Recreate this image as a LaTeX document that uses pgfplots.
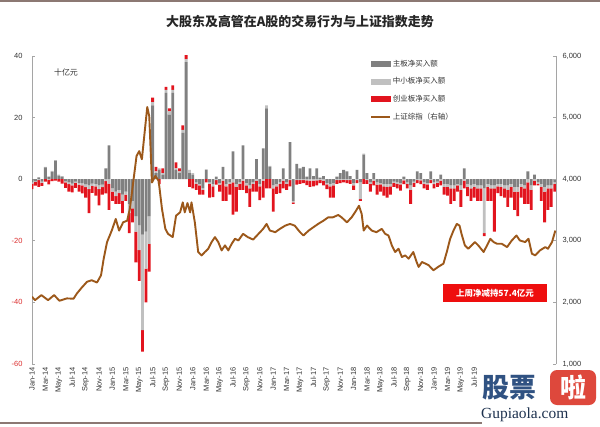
\documentclass[border=0pt]{standalone}
\usepackage{fontspec}
\setmainfont{Liberation Sans}
\newfontfamily\cjk{Noto Sans CJK SC}
\newfontfamily\serifw{Liberation Serif}
\usepackage{pgfplots}
\usepackage{pgfplotstable}
\pgfplotsset{compat=1.18}

\definecolor{mainc}{RGB}{128,128,128}
\definecolor{smec}{RGB}{192,192,192}
\definecolor{gemc}{RGB}{226,20,30}
\definecolor{idxc}{RGB}{156,88,26}
\definecolor{negred}{RGB}{220,45,45}
\definecolor{axgray}{RGB}{165,165,165}
\definecolor{boxred}{RGB}{238,14,14}
\definecolor{wmblue}{RGB}{48,82,130}
\definecolor{wmred}{RGB}{222,72,60}
\definecolor{rulec}{RGB}{140,120,115}

% weekly-ish net buying, 10 bn yuan: a = main board, b = SME board, c = ChiNext
\pgfplotstableread{
m a b c
0.0 -1.0 -0.4 -1.8
0.5 -0.6 -0.3 -1.2
1.0 0.6 -0.3 -2.2
1.5 -0.8 -0.4 -1.0
2.0 3.8 0.2 -0.8
2.5 0.8 -0.2 -1.5
3.0 2.4 0.3 -0.6
3.5 6.0 0.2 -0.5
4.0 1.2 0.3 -0.8
4.5 0.8 0.2 -1.4
5.0 -0.6 -0.4 -1.8
5.5 -1.0 -0.6 -2.4
6.0 -1.4 -0.6 -2.3
6.5 -0.8 -0.4 -1.6
7.0 -1.2 -0.6 -2.2
7.5 -1.3 -0.7 -2.6
8.0 -1.6 -1.0 -3.4
8.5 -2.0 -1.2 -7.8
9.0 -1.4 -0.8 -2.2
9.5 -1.5 -0.8 -3.0
10.0 -2.0 -1.2 -5.3
10.5 -1.8 -0.8 -2.4
11.0 3.5 -0.6 -4.0
11.5 11.0 -1.5 -8.5
12.0 -3.0 -1.0 -3.0
12.5 -4.0 -1.5 -2.5
13.0 -3.5 -1.0 -3.5
13.5 -5.0 -2.0 -4.0
14.0 -4.0 -1.0 -2.0
14.5 -8.0 -3.0 -6.5
15.0 -7.0 -2.5 -4.5
15.5 -12.0 -5.0 -10.0
16.0 -15.0 -8.0 -10.0
16.5 -18.0 -31.0 -7.0
17.0 -17.0 -12.0 -11.0
17.5 -12.0 -9.0 -9.0
18.0 24.0 1.0 1.5
18.5 2.0 0.5 1.5
19.0 3.0 0.5 -1.5
19.5 1.5 0.5 1.5
20.0 28.0 1.0 1.0
20.5 21.0 1.0 1.0
21.0 28.0 1.0 1.5
21.5 3.0 0.5 2.0
22.0 2.0 0.5 1.0
22.5 15.0 1.0 1.5
23.0 38.0 1.0 1.5
23.5 2.0 1.0 -2.5
24.0 1.5 0.5 -3.0
24.5 -1.0 -0.5 -2.0
25.0 -1.5 -0.5 -3.0
25.5 -3.0 -0.5 -1.5
26.0 3.0 0.2 -1.0
26.5 -1.0 -0.5 -4.5
27.0 -1.5 -0.8 -3.5
27.5 0.8 -0.3 -1.5
28.0 -1.2 -0.6 -2.2
28.5 4.0 -0.5 -6.5
29.0 -1.5 -0.8 -4.7
29.5 -1.0 -0.5 -3.5
30.0 9.0 -1.0 -10.5
30.5 -1.5 -1.0 -8.0
31.0 -1.0 -0.5 -2.0
31.5 11.0 -0.5 -3.0
32.0 -1.2 -0.8 -2.5
32.5 -2.0 -1.0 -6.0
33.0 -1.0 -0.5 -2.5
33.5 6.5 -0.5 -3.5
34.0 -1.5 -0.8 -4.5
34.5 10.0 -0.5 -5.5
35.0 23.0 1.0 -3.0
35.5 4.0 0.3 -3.0
36.0 -2.0 -1.0 -7.5
36.5 -1.5 -0.8 -2.5
37.0 -1.0 -0.5 -3.0
37.5 3.5 -0.5 -2.5
38.0 -1.0 -0.5 -2.0
38.5 12.0 -0.3 -2.0
39.0 -7.0 -0.5 -0.5
39.5 5.0 -0.3 -1.5
40.0 3.5 -0.3 -1.2
40.5 4.0 -0.3 -1.0
41.0 0.8 -0.4 -1.5
41.5 3.5 -0.5 -2.0
42.0 1.0 -0.5 -1.8
42.5 3.5 -0.4 -1.6
43.0 0.5 -0.3 -1.0
43.5 1.0 -0.5 -1.5
44.0 -1.2 -0.5 -1.5
44.5 -1.5 -0.8 -3.7
45.0 -1.2 -0.8 -4.0
45.5 0.8 -0.3 -1.2
46.0 2.0 -0.3 -1.0
46.5 3.0 -0.2 -0.8
47.0 2.5 -0.3 -1.0
47.5 1.0 -0.3 -1.2
48.0 -1.2 -0.8 -1.5
48.5 3.0 -0.3 -1.0
49.0 -1.0 -5.5 -0.5
49.5 8.0 0.3 -1.5
50.0 2.0 -0.3 -1.2
50.5 -1.0 -0.5 -2.5
51.0 2.0 -0.5 -1.5
51.5 -1.0 -0.8 -3.2
52.0 -1.2 -0.5 -2.3
52.5 -1.5 -0.8 -3.0
53.0 -1.5 -1.0 -3.5
53.5 -1.5 -0.8 -2.7
54.0 -0.8 -0.4 -1.3
54.5 -1.0 -0.5 -1.5
55.0 -1.2 -0.5 -2.0
55.5 0.8 -0.4 -1.2
56.0 -1.0 -0.5 -1.5
56.5 -2.0 -1.5 -4.5
57.0 -0.8 -0.4 -1.3
57.5 2.5 -0.3 -1.0
58.0 2.0 -0.4 -1.2
58.5 -1.0 -0.5 -1.5
59.0 -1.2 -0.5 -1.8
59.5 2.5 -0.3 -1.0
60.0 -1.0 -0.6 -1.4
60.5 -0.8 -0.4 -1.3
61.0 1.5 -0.5 -1.5
61.5 -1.5 -1.0 -2.5
62.0 -1.5 -1.0 -2.8
62.5 -2.0 -1.0 -5.0
63.0 -2.0 -1.0 -4.0
63.5 -1.5 -0.5 -2.0
64.0 -2.0 -1.5 -5.5
64.5 3.5 -0.5 -2.5
65.0 -1.5 -1.0 -3.0
65.5 -2.0 -1.0 -4.0
66.0 -1.5 -1.0 -3.5
66.5 -2.0 -1.0 -4.0
67.0 -2.0 -1.0 -4.0
67.5 -3.0 -14.5 -1.0
68.0 -1.5 -1.0 -4.5
68.5 -2.0 -1.0 -4.0
69.0 -2.0 -1.0 -14.0
69.5 -1.5 -0.8 -2.2
70.0 -1.5 -1.0 -3.0
70.5 -2.0 -1.0 -3.0
71.0 -2.0 -1.5 -5.5
71.5 -1.5 -1.0 -3.5
72.0 -2.5 -1.5 -6.0
72.5 -2.5 -1.5 -8.0
73.0 -1.5 -1.0 -3.5
73.5 -2.0 -1.0 -5.0
74.0 2.5 -1.0 -7.0
74.5 -2.0 -1.5 -6.5
75.0 1.5 -0.5 -1.5
75.5 -1.0 -0.5 -0.5
76.0 -1.5 -1.0 -4.5
76.5 -2.5 -1.5 -10.0
77.0 -2.0 -1.0 -7.0
77.5 -2.0 -1.0 -6.0
78.0 -1.0 -0.5 -2.5
}\flows

% Shanghai Composite (right axis)
\pgfplotstableread{
m v
0 2092
0.45 2037
1.4 2118
2.4 2037
3.3 2118
4.1 2027
5.2 2065
6.2 2060
6.7 2145
7.4 2237
8.2 2334
8.9 2360
9.7 2323
10.3 2440
10.7 2710
11.2 2979
11.9 3166
12.5 3355
13.0 3166
13.6 3300
14.2 3327
14.6 3516
15.1 3946
15.6 4376
16.0 4456
16.4 4323
16.7 4645
17.2 5172
17.5 5021
17.9 3946
18.4 4054
18.9 3973
19.4 3516
19.9 3194
20.3 3113
21.0 3060
21.5 3408
22.1 3462
22.5 3624
22.8 3462
23.2 3613
23.6 3462
23.8 3624
24.3 3300
24.8 2818
25.3 2763
25.8 2818
26.3 2871
26.8 2979
27.3 3060
27.8 2979
28.3 2844
28.8 2925
29.3 2844
29.8 2952
30.3 3033
30.8 3006
31.5 3113
32.2 3060
33.0 3020
33.8 3113
34.5 3194
35.0 3274
35.5 3167
36.3 3140
37.0 3194
37.8 3247
38.5 3274
39.2 3247
40.0 3140
40.5 3086
41.3 3167
42.0 3221
42.7 3274
43.5 3327
44.2 3381
44.9 3381
45.7 3419
46.2 3381
47.0 3300
47.7 3381
48.2 3462
48.8 3569
49.2 3435
49.5 3166
50.0 3247
50.7 3166
51.4 3140
52.2 3194
52.7 3113
53.2 3086
53.7 2925
54.2 2818
54.7 2871
55.2 2737
55.7 2763
56.2 2710
56.9 2818
57.4 2656
57.7 2576
58.2 2656
58.7 2630
59.2 2603
59.9 2521
60.6 2576
61.4 2629
61.9 2818
62.4 3032
62.9 3166
63.4 3274
63.8 3247
64.1 3113
64.6 2925
65.1 2871
65.6 2925
66.1 2979
66.6 2925
67.4 2818
67.9 2925
68.4 3032
68.9 2979
69.4 2952
70.1 2952
70.9 2898
71.6 3006
72.3 3086
72.8 3006
73.6 2979
74.1 3033
74.6 2790
75.1 2763
75.8 2844
76.6 2898
77.0 2871
77.6 2979
78.1 3166
}\sse

\pgfplotsset{
  base/.style={scale only axis, width=524bp, height=308bp, at={(32bp,62bp)},
    anchor=south west, xmin=0, xmax=78.2, enlargelimits=false,
    ymin=-60, ymax=40},
  tickfont/.style={font=\fontsize{7.5}{8}\selectfont},
}

\begin{document}
\begin{tikzpicture}[x=1bp,y=1bp]
\useasboundingbox (0,0) rectangle (600,426);
\fill[white] (0,0) rectangle (600,426);
\draw[rulec, line width=1.6bp] (0,425) -- (600,425);
\draw[rulec, line width=1.2bp] (0,3) -- (482,3);

% positive parts + axes with labels
\begin{axis}[base, ybar stacked, bar width=0.42,
  axis y line*=left, axis x line*=bottom,
  x axis line style={draw=none}, y axis line style={axgray, line width=0.8bp},
  xtick={0,2,...,66},
  xticklabels={Jan-14,Mar-14,May-14,Jul-14,Sep-14,Nov-14,Jan-15,Mar-15,May-15,Jul-15,Sep-15,Nov-15,Jan-16,Mar-16,May-16,Jul-16,Sep-16,Nov-16,Jan-17,Mar-17,May-17,Jul-17,Sep-17,Nov-17,Jan-18,Mar-18,May-18,Jul-18,Sep-18,Nov-18,Jan-19,Mar-19,May-19,Jul-19},
  xtick style={draw=none},
  xticklabel style={tickfont, rotate=90, anchor=east, text=black!80},
  ytick={-60,-40,-20,0,20,40},
  yticklabels={\textcolor{negred}{-60},\textcolor{negred}{-40},\textcolor{negred}{-20},0,20,40},
  yticklabel style={tickfont, text=black!80, xshift=-6bp},
  ytick style={axgray, line width=0.8bp}, tick align=inside, major tick length=3bp,
  ]
\addplot[fill=mainc, draw=none] table[x=m, y expr={max(\thisrow{a},0)}] {\flows};
\addplot[fill=smec, draw=none] table[x=m, y expr={max(\thisrow{b},0)}] {\flows};
\addplot[fill=gemc, draw=none] table[x=m, y expr={max(\thisrow{c},0)}] {\flows};
\end{axis}

% negative parts
\begin{axis}[base, ybar stacked, bar width=0.42, hide axis]
\addplot[fill=mainc, draw=none] table[x=m, y expr={min(\thisrow{a},0)}] {\flows};
\addplot[fill=smec, draw=none] table[x=m, y expr={min(\thisrow{b},0)}] {\flows};
\addplot[fill=gemc, draw=none] table[x=m, y expr={min(\thisrow{c},0)}] {\flows};
\end{axis}

% index line, right axis, legend
\begin{axis}[base, ymin=1000, ymax=6000,
  axis y line*=right, axis x line=none,
  y axis line style={axgray, line width=0.8bp},
  ytick={1000,2000,...,6000},
  yticklabels={{1,000},{2,000},{3,000},{4,000},{5,000},{6,000}},
  yticklabel style={tickfont, text=black!80, xshift=3bp},
  ytick style={axgray, line width=0.8bp}, tick align=inside, major tick length=3bp,
  legend style={draw=none, fill=none, at={(0.645,0.995)}, anchor=north west,
    font=\cjk\fontsize{7.5}{9}\selectfont, text=black!80,
    row sep=6bp, inner sep=0pt},
  legend cell align=left,
  ]
\addplot[idxc, line width=1.9bp, line join=round, forget plot] table[x=m, y=v] {\sse};
\addlegendimage{legend image code/.code={\fill[mainc] (0bp,-2.5bp) rectangle (19bp,2.5bp);}}
\addlegendentry{主板净买入额}
\addlegendimage{legend image code/.code={\fill[smec] (0bp,-2.5bp) rectangle (19bp,2.5bp);}}
\addlegendentry{中小板净买入额}
\addlegendimage{legend image code/.code={\fill[gemc] (0bp,-2.5bp) rectangle (19bp,2.5bp);}}
\addlegendentry{创业板净买入额}
\addlegendimage{legend image code/.code={\draw[idxc, line width=1.8bp] (0bp,0bp) -- (19bp,0bp);}}
\addlegendentry{上证综指（右轴）}
\end{axis}

% title and notes
\node[font=\cjk\bfseries\fontsize{13}{14}\selectfont, text=black!85] at (300,404) {大股东及高管在A股的交易行为与上证指数走势};
\node[font=\cjk\fontsize{8}{9}\selectfont, text=black!80] at (66,353.5) {十亿元};
\fill[boxred] (443,124) rectangle (547,142);
\node[font=\cjk\bfseries\fontsize{8.5}{9}\selectfont, text=white] at (495,133) {上周净减持57.4亿元};

% watermark
\node[font=\cjk\bfseries\fontsize{27}{27}\selectfont, text=wmblue, anchor=west, inner sep=0pt] at (482,38) {股票};
\fill[wmred, rounded corners=7bp] (550,21) rectangle (596,56);
\node[font=\cjk\bfseries\fontsize{26}{26}\selectfont, text=white] at (573,38.5) {啦};
\node[font=\serifw\fontsize{15.5}{16}\selectfont, text=wmblue!60!black, anchor=west, inner sep=0pt] at (481,11.5) {Gupiaola.com};
\end{tikzpicture}
\end{document}
